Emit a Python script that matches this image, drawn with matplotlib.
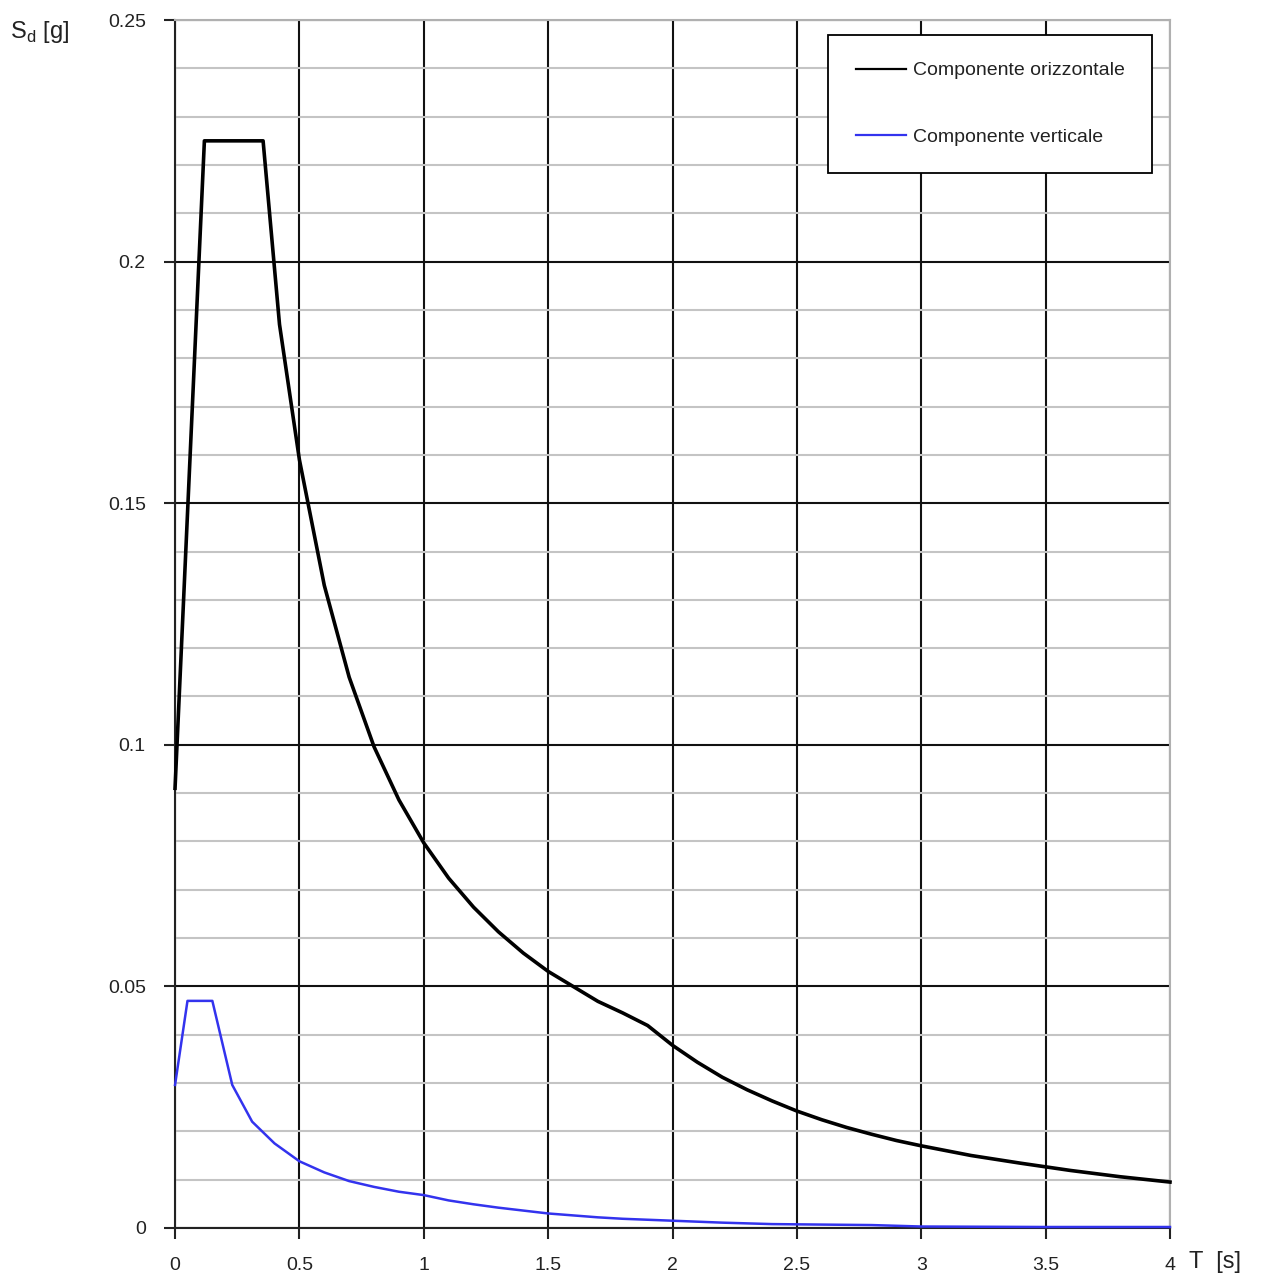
import matplotlib.pyplot as plt
from matplotlib.ticker import MultipleLocator

plt.rcParams['font.family'] = ['Liberation Sans', 'DejaVu Sans']

# componente orizzontale
t_orizz = [0, 0.118, 0.354, 0.42, 0.5, 0.6, 0.7, 0.8, 0.9, 1.0, 1.1, 1.2, 1.3, 1.4,
           1.5, 1.6, 1.7, 1.8, 1.9, 2.0, 2.1, 2.2, 2.3, 2.4, 2.5, 2.6, 2.7, 2.8, 2.9,
           3.0, 3.2, 3.4, 3.6, 3.8, 4.0]
sd_orizz = [0.091, 0.225, 0.225, 0.187, 0.159, 0.133, 0.114, 0.0996, 0.0886, 0.0797,
            0.0724, 0.0664, 0.0613, 0.0569, 0.0531, 0.0500, 0.0469, 0.0445, 0.0419,
            0.0378, 0.0343, 0.0312, 0.0286, 0.0263, 0.0242, 0.0224, 0.0208, 0.0194,
            0.0181, 0.0170, 0.0150, 0.0134, 0.0119, 0.0106, 0.0095]

# componente verticale
t_vert = [0, 0.05, 0.15, 0.23, 0.31, 0.4, 0.5, 0.6, 0.7, 0.8, 0.9, 1.0, 1.1, 1.2, 1.3,
          1.4, 1.5, 1.6, 1.7, 1.8, 1.9, 2.0, 2.2, 2.4, 2.6, 2.8, 3.0, 3.5, 4.0]
sd_vert = [0.0296, 0.047, 0.047, 0.0296, 0.022, 0.0175, 0.0138, 0.0115, 0.0097, 0.0085,
           0.0075, 0.0068, 0.0057, 0.0049, 0.0042, 0.0036, 0.0030, 0.0026, 0.0022, 0.0019,
           0.0017, 0.0015, 0.0011, 0.0008, 0.0007, 0.0006, 0.0003, 0.0002, 0.0002]

x_ticks = [0, 0.5, 1, 1.5, 2, 2.5, 3, 3.5, 4]
x_labels = ['0', '0.5', '1', '1.5', '2', '2.5', '3', '3.5', '4']
y_ticks = [0, 0.05, 0.1, 0.15, 0.2, 0.25]
y_labels = ['0', '0.05', '0.1', '0.15', '0.2', '0.25']

fig = plt.figure(figsize=(12.62, 12.77), dpi=100)
ax = fig.add_axes([0.1387, 0.0384, 0.7884, 0.9459])

ax.set_xlim(0, 4)
ax.set_ylim(0, 0.25)
ax.set_xticks(x_ticks)
ax.set_xticklabels(x_labels)
ax.set_yticks(y_ticks)
ax.set_yticklabels(y_labels)
ax.yaxis.set_minor_locator(MultipleLocator(0.01))

ax.grid(which='minor', axis='y', color='#c4c4c4', linewidth=1.5)
ax.grid(which='major', color='#111111', linewidth=1.5)
ax.set_axisbelow(True)
ax.tick_params(which='major', length=8, width=1.5, color='#222222', labelsize=14,
               pad=13, labelcolor='#222222')
ax.tick_params(which='minor', length=0)

for side in ['left', 'bottom']:
    ax.spines[side].set_color('#222222')
    ax.spines[side].set_linewidth(1.5)
for side in ['top', 'right']:
    ax.spines[side].set_color('#b0b0b0')
    ax.spines[side].set_linewidth(1.5)

ax.plot(t_orizz, sd_orizz, color='black', linewidth=2.6, label='Componente orizzontale',
        clip_on=False, zorder=3)
ax.plot(t_vert, sd_vert, color='#3333ee', linewidth=1.8, label='Componente verticale',
        clip_on=False, zorder=3)

leg = ax.legend(loc='upper right', bbox_to_anchor=(0.982, 0.988), fontsize=14,
                frameon=True, fancybox=False, edgecolor='black', framealpha=1,
                borderpad=1.4, labelspacing=2.5, handlelength=2.6, handletextpad=0.35,
                borderaxespad=0)
leg.get_frame().set_linewidth(1.3)
for txt in leg.get_texts():
    txt.set_color('#222222')
for line in leg.get_lines():
    line.set_linewidth(1.6)

fig.text(0.008, 0.975, r'S$_\mathregular{d}$ [g]', fontsize=17, color='#222222', va='center')
fig.text(0.942, 0.012, 'T  [s]', fontsize=17, color='#222222', va='center')

plt.savefig('out.png', dpi=100)
